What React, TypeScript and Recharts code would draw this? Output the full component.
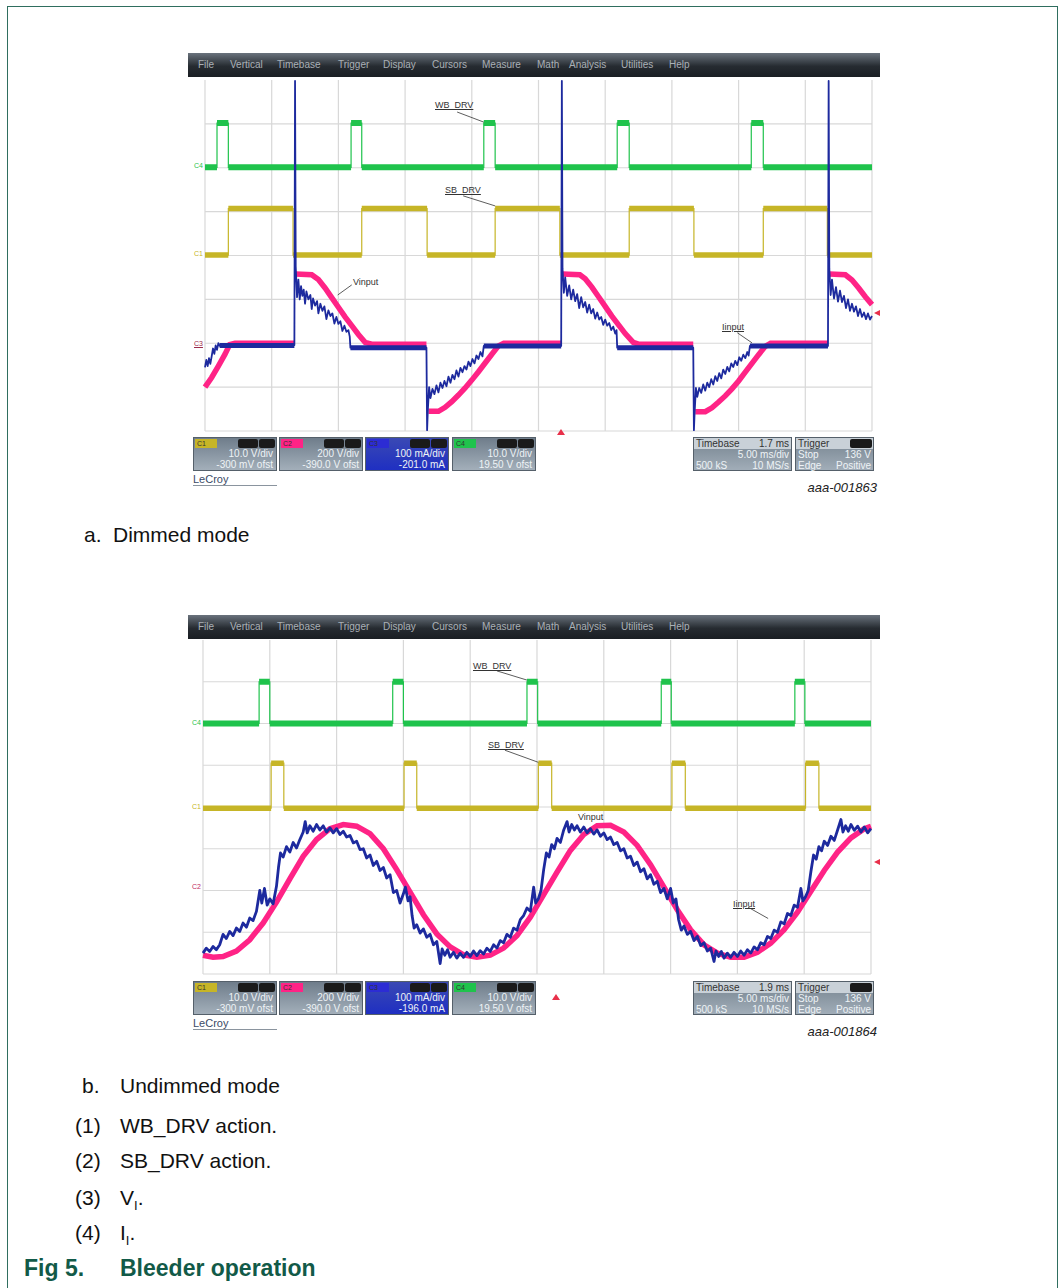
import React from 'react';
import { ComposedChart, Line, XAxis, YAxis, CartesianGrid, ReferenceLine } from 'recharts';

// all trace values are in scope divisions: t = 0..10 (time), v = 0..8 measured from the top
type Pt = [number, number | null];

const gridX = [0, 1, 2, 3, 4, 5, 6, 7, 8, 9, 10];
const gridY = [0, 1, 2, 3, 4, 5, 6, 7, 8];

// ---------- a. dimmed mode ----------
const dimWbEdges = [0.18, 0.35, 2.19, 2.35, 4.18, 4.35, 6.18, 6.36, 8.19, 8.37];
const dimWbLevels = [1.99, 0.98]; // low, high
const dimSbEdges = [0.35, 1.32, 2.35, 3.33, 4.35, 5.32, 6.36, 7.33, 8.37, 9.33];
const dimSbLevels = [3.99, 2.93];

const dimVin: Pt[] = [
  [0, 7.0], [0.1, 6.78], [0.2, 6.52], [0.3, 6.25], [0.37, 6.03], [0.45, 6.0], [1.34, 6.0], [1.34, null],
  [1.36, 4.42], [1.6, 4.44], [1.7, 4.55], [1.8, 4.74], [1.9, 4.96], [2.0, 5.18], [2.1, 5.4], [2.2, 5.6], [2.3, 5.8], [2.4, 5.98], [2.5, 6.02], [3.32, 6.02], [3.32, null],
  [3.35, 7.55], [3.5, 7.55], [3.6, 7.46], [3.7, 7.33], [3.8, 7.18], [3.9, 7.02], [4.0, 6.84], [4.1, 6.65], [4.2, 6.45], [4.3, 6.25], [4.4, 6.06], [4.48, 6.0], [5.34, 6.0], [5.34, null],
  [5.36, 4.42], [5.62, 4.44], [5.7, 4.53], [5.8, 4.72], [5.9, 4.94], [6.0, 5.16], [6.1, 5.38], [6.2, 5.58], [6.3, 5.78], [6.42, 5.98], [6.5, 6.02], [7.32, 6.02], [7.32, null],
  [7.35, 7.56], [7.5, 7.56], [7.6, 7.47], [7.7, 7.34], [7.8, 7.2], [7.9, 7.04], [8.0, 6.86], [8.1, 6.66], [8.2, 6.46], [8.3, 6.26], [8.4, 6.07], [8.48, 6.0], [9.34, 6.0], [9.34, null],
  [9.36, 4.42], [9.6, 4.44], [9.7, 4.56], [9.8, 4.74], [9.9, 4.94], [10, 5.12],
];

const dimIinBand: Pt[] = [
  [0.22, 6.05], [1.34, 6.05], [1.34, null], [2.18, 6.1], [3.32, 6.1], [3.32, null],
  [4.18, 6.06], [5.34, 6.06], [5.34, null], [6.18, 6.1], [7.32, 6.1], [7.32, null],
  [8.17, 6.06], [9.34, 6.06],
];

const dimIin: Pt[] = [
  [0, 6.55], [0.02, 6.38], [0.04, 6.52], [0.06, 6.34], [0.08, 6.47], [0.1, 6.3], [0.12, 6.12], [0.14, 6.24], [0.16, 6.05], [0.18, 6.15], [0.2, 6.0], [0.22, 6.06],
  [1.34, 6.04], [1.35, 0.02], [1.36, 4.25], [1.38, 4.95], [1.4, 4.55], [1.42, 5.0], [1.44, 4.7], [1.46, 4.92], [1.48, 4.78], [1.5, 5.1], [1.52, 4.82], [1.55, 5.0],
  [1.58, 4.9], [1.6, 5.22], [1.62, 4.98], [1.65, 5.14], [1.68, 5.04], [1.7, 5.32], [1.73, 5.1], [1.76, 5.26], [1.79, 5.16], [1.82, 5.45], [1.85, 5.25], [1.88, 5.38],
  [1.91, 5.32], [1.94, 5.55], [1.97, 5.4], [2.0, 5.56], [2.03, 5.5], [2.06, 5.72], [2.09, 5.6], [2.12, 5.74], [2.15, 5.7], [2.17, 5.85], [2.18, 6.1],
  [3.32, 6.1], [3.33, 7.98], [3.34, 7.55], [3.36, 7.0], [3.38, 7.25], [3.41, 7.04], [3.44, 7.16], [3.47, 6.96], [3.5, 7.12], [3.53, 6.9], [3.56, 7.02], [3.59, 6.86],
  [3.62, 6.98], [3.65, 6.76], [3.68, 6.9], [3.71, 6.72], [3.74, 6.82], [3.77, 6.62], [3.8, 6.76], [3.83, 6.56], [3.86, 6.66], [3.89, 6.52], [3.92, 6.6], [3.95, 6.42],
  [3.98, 6.52], [4.01, 6.36], [4.04, 6.46], [4.07, 6.28], [4.1, 6.36], [4.13, 6.2], [4.16, 6.3], [4.18, 6.06],
  [5.34, 6.06], [5.35, 0.02], [5.36, 4.3], [5.38, 4.85], [5.4, 4.5], [5.43, 4.92], [5.46, 4.68], [5.49, 5.0], [5.52, 4.78], [5.55, 5.04], [5.58, 4.88], [5.61, 5.2],
  [5.64, 4.95], [5.67, 5.18], [5.7, 5.06], [5.73, 5.3], [5.76, 5.12], [5.79, 5.32], [5.82, 5.22], [5.85, 5.44], [5.88, 5.3], [5.91, 5.46], [5.94, 5.4], [5.97, 5.58],
  [6.0, 5.46], [6.03, 5.6], [6.06, 5.54], [6.09, 5.7], [6.12, 5.62], [6.15, 5.78], [6.17, 5.7], [6.18, 6.1],
  [7.32, 6.1], [7.33, 7.98], [7.34, 7.6], [7.36, 7.02], [7.38, 7.22], [7.41, 7.02], [7.44, 7.13], [7.47, 6.94], [7.5, 7.08], [7.53, 6.9], [7.56, 7.0], [7.59, 6.82],
  [7.62, 6.94], [7.65, 6.75], [7.68, 6.86], [7.71, 6.68], [7.74, 6.8], [7.77, 6.6], [7.8, 6.7], [7.83, 6.54], [7.86, 6.64], [7.89, 6.46], [7.92, 6.54], [7.95, 6.4],
  [7.98, 6.5], [8.01, 6.32], [8.04, 6.4], [8.07, 6.26], [8.1, 6.34], [8.13, 6.2], [8.15, 6.28], [8.17, 6.06],
  [9.34, 6.06], [9.35, 0.02], [9.36, 4.3], [9.38, 4.9], [9.4, 4.55], [9.43, 4.98], [9.46, 4.72], [9.49, 5.05], [9.52, 4.8], [9.55, 5.06], [9.58, 4.92], [9.61, 5.2],
  [9.64, 5.0], [9.67, 5.26], [9.7, 5.1], [9.73, 5.28], [9.76, 5.16], [9.79, 5.38], [9.82, 5.22], [9.85, 5.4], [9.88, 5.3], [9.91, 5.45], [9.94, 5.32], [9.97, 5.46], [10, 5.38],
];

const dimChannelText = [
  ['10.0 V/div', '-300 mV ofst'],
  ['200 V/div', '-390.0 V ofst'],
  ['100 mA/div', '-201.0 mA'],
  ['10.0 V/div', '19.50 V ofst'],
];
const dimTimebase = ['1.7 ms', '5.00 ms/div', '500 kS', '10 MS/s'];

// ---------- b. undimmed mode ----------
const undimWbEdges = [0.84, 1.0, 2.84, 3.0, 4.85, 5.01, 6.86, 7.01, 8.86, 9.01];
const undimWbLevels = [2.0, 1.0];
const undimSbEdges = [1.02, 1.21, 3.01, 3.2, 5.02, 5.22, 7.02, 7.22, 9.02, 9.22];
const undimSbLevels = [4.03, 2.95];

const undimVin: Pt[] = [
  [0, 7.55], [0.15, 7.6], [0.3, 7.58], [0.5, 7.45], [0.7, 7.18], [0.9, 6.78], [1.1, 6.28], [1.3, 5.72], [1.5, 5.18], [1.7, 4.78], [1.9, 4.52],
  [2.1, 4.42], [2.3, 4.46], [2.5, 4.64], [2.7, 5.0], [2.9, 5.5], [3.1, 6.04], [3.3, 6.58], [3.5, 7.04], [3.7, 7.35], [3.9, 7.54], [4.1, 7.6],
  [4.3, 7.55], [4.5, 7.38], [4.7, 7.08], [4.9, 6.64], [5.1, 6.1], [5.3, 5.56], [5.5, 5.04], [5.7, 4.66], [5.9, 4.45], [6.1, 4.44], [6.3, 4.6],
  [6.5, 4.92], [6.7, 5.38], [6.9, 5.92], [7.1, 6.46], [7.3, 6.94], [7.5, 7.3], [7.7, 7.5], [7.9, 7.6], [8.1, 7.6], [8.3, 7.48], [8.5, 7.26],
  [8.7, 6.94], [8.9, 6.52], [9.1, 6.02], [9.3, 5.52], [9.5, 5.08], [9.7, 4.74], [9.9, 4.52], [10, 4.46],
];

const undimIin: Pt[] = [
  [0, 7.5], [0.05, 7.38], [0.1, 7.46], [0.15, 7.34], [0.2, 7.42], [0.25, 7.3], [0.3, 7.05], [0.35, 7.15], [0.4, 6.98], [0.45, 7.08], [0.5, 6.9],
  [0.55, 6.98], [0.6, 6.78], [0.65, 6.88], [0.7, 6.66], [0.75, 6.72], [0.8, 6.5], [0.85, 6.0], [0.88, 6.3], [0.92, 5.95], [0.96, 6.35], [1.0, 6.2],
  [1.05, 6.32], [1.1, 5.9], [1.13, 5.45], [1.16, 5.1], [1.2, 5.2], [1.25, 4.95], [1.3, 5.08], [1.35, 4.85], [1.4, 4.98], [1.45, 4.78], [1.5, 4.6],
  [1.53, 4.35], [1.56, 4.62], [1.6, 4.45], [1.65, 4.58], [1.7, 4.42], [1.75, 4.55], [1.8, 4.45], [1.85, 4.6], [1.9, 4.5], [1.95, 4.62], [2.0, 4.52],
  [2.05, 4.66], [2.1, 4.58], [2.15, 4.72], [2.2, 4.68], [2.25, 4.86], [2.3, 4.82], [2.35, 5.02], [2.4, 5.0], [2.45, 5.22], [2.5, 5.15], [2.55, 5.4],
  [2.6, 5.3], [2.65, 5.52], [2.7, 5.45], [2.75, 5.7], [2.8, 5.62], [2.85, 6.05], [2.9, 6.0], [2.95, 6.3], [3.0, 6.08], [3.03, 5.92], [3.07, 6.25],
  [3.1, 6.15], [3.13, 6.6], [3.16, 6.9], [3.2, 6.82], [3.25, 7.02], [3.3, 6.92], [3.35, 7.12], [3.4, 7.05], [3.45, 7.3], [3.5, 7.22], [3.55, 7.75],
  [3.58, 7.4], [3.62, 7.55], [3.66, 7.42], [3.7, 7.6], [3.75, 7.48], [3.8, 7.62], [3.85, 7.5], [3.9, 7.6], [3.95, 7.48], [4.0, 7.58], [4.05, 7.45],
  [4.1, 7.56], [4.15, 7.44], [4.2, 7.52], [4.25, 7.38], [4.3, 7.46], [4.35, 7.3], [4.4, 7.38], [4.45, 7.2], [4.5, 7.25], [4.55, 7.05], [4.6, 7.12],
  [4.65, 6.9], [4.7, 6.95], [4.75, 6.7], [4.8, 6.6], [4.85, 6.42], [4.9, 6.5], [4.95, 5.92], [4.98, 6.3], [5.02, 6.2], [5.06, 6.0], [5.1, 5.5],
  [5.14, 5.1], [5.18, 5.2], [5.22, 4.9], [5.26, 5.0], [5.3, 4.75], [5.35, 4.85], [5.4, 4.55], [5.45, 4.35], [5.48, 4.6], [5.52, 4.42], [5.56, 4.55],
  [5.6, 4.45], [5.65, 4.6], [5.7, 4.48], [5.75, 4.62], [5.8, 4.52], [5.85, 4.65], [5.9, 4.55], [5.95, 4.7], [6.0, 4.62], [6.05, 4.78], [6.1, 4.72],
  [6.15, 4.9], [6.2, 4.85], [6.25, 5.05], [6.3, 5.0], [6.35, 5.22], [6.4, 5.18], [6.45, 5.4], [6.5, 5.32], [6.55, 5.55], [6.6, 5.48], [6.65, 5.72],
  [6.7, 5.62], [6.75, 5.85], [6.8, 5.78], [6.85, 6.05], [6.9, 5.95], [6.95, 6.2], [7.0, 5.95], [7.04, 6.3], [7.08, 6.2], [7.12, 6.7], [7.16, 6.95],
  [7.2, 6.85], [7.25, 7.05], [7.3, 6.98], [7.35, 7.2], [7.4, 7.1], [7.45, 7.32], [7.5, 7.25], [7.55, 7.45], [7.6, 7.38], [7.65, 7.7], [7.68, 7.45],
  [7.72, 7.58], [7.76, 7.46], [7.8, 7.62], [7.85, 7.5], [7.9, 7.6], [7.95, 7.48], [8.0, 7.58], [8.05, 7.45], [8.1, 7.55], [8.15, 7.42], [8.2, 7.5],
  [8.25, 7.35], [8.3, 7.42], [8.35, 7.25], [8.4, 7.3], [8.45, 7.1], [8.5, 7.15], [8.55, 6.95], [8.6, 7.0], [8.65, 6.75], [8.7, 6.8], [8.75, 6.55],
  [8.8, 6.6], [8.85, 6.35], [8.9, 6.4], [8.95, 5.95], [8.98, 6.25], [9.02, 6.15], [9.06, 6.0], [9.1, 5.55], [9.14, 5.15], [9.18, 5.25], [9.22, 4.95],
  [9.26, 5.05], [9.3, 4.82], [9.35, 4.92], [9.4, 4.7], [9.45, 4.8], [9.5, 4.55], [9.55, 4.3], [9.58, 4.6], [9.62, 4.45], [9.66, 4.58], [9.7, 4.42],
  [9.75, 4.56], [9.8, 4.46], [9.85, 4.6], [9.9, 4.48], [9.95, 4.62], [10, 4.52],
];

const undimChannelText = [
  ['10.0 V/div', '-300 mV ofst'],
  ['200 V/div', '-390.0 V ofst'],
  ['100 mA/div', '-196.0 mA'],
  ['10.0 V/div', '19.50 V ofst'],
];
const undimTimebase = ['1.9 ms', '5.00 ms/div', '500 kS', '10 MS/s'];

const triggerText = ['Stop', '136 V', 'Edge', 'Positive'];
const menuItems = ['File', 'Vertical', 'Timebase', 'Trigger', 'Display', 'Cursors', 'Measure', 'Math', 'Analysis', 'Utilities', 'Help'];
const notesList = ['WB_DRV action.', 'SB_DRV action.'];

// ---------- helpers ----------
const pts = (a: Pt[]) => a.map(([t, v]) => ({ t, v }));

function squareWave(edges: number[], levels: number[]) {
  const [lo, hi] = levels;
  const out: { t: number; v: number | null }[] = [{ t: 0, v: lo }];
  edges.forEach((e, i) => {
    const rising = i % 2 === 0;
    out.push({ t: e, v: rising ? lo : hi }, { t: e, v: rising ? hi : lo });
  });
  out.push({ t: 10, v: lo });
  return out;
}

function plateaus(edges: number[], levels: number[]) {
  const [lo, hi] = levels;
  const b = [0, ...edges, 10];
  const out: { t: number; v: number | null }[] = [];
  for (let i = 0; i < b.length - 1; i++) {
    const v = i % 2 === 0 ? lo : hi;
    out.push({ t: b[i], v }, { t: b[i + 1], v }, { t: b[i + 1], v: null });
  }
  return out;
}

const FONT = '"Liberation Sans", Arial, Helvetica, sans-serif';
const GREEN = '#1fc34c';
const YELLOW = '#c6b527';
const PINK = '#ff2386';
const BLUE = '#1d2a9e';

const menuOffsets = [10, 42, 89, 150, 195, 244, 294, 349, 381, 433, 481];

function ChanBox({ left, top, tag, tagColor, text, blue }: any) {
  return (
    <div style={{
      position: 'absolute', left, top, width: 84, height: 34, fontFamily: FONT,
      background: blue ? 'linear-gradient(#3a49b4, #1f2fc2)' : 'linear-gradient(#6f7d8b, #a3afba)',
      border: '1px solid #55606a', boxSizing: 'border-box', color: '#eef3f6',
    }}>
      <div style={{ position: 'absolute', left: 1, top: 1, width: 20, height: 9, background: tagColor, fontSize: 7, color: '#333', lineHeight: '9px', paddingLeft: 2 }}>{tag}</div>
      <div style={{ position: 'absolute', right: 18, top: 1, width: 20, height: 9, background: '#1a1a1a', borderRadius: 2 }} />
      <div style={{ position: 'absolute', right: 1, top: 1, width: 16, height: 9, background: '#1a1a1a', borderRadius: 2 }} />
      <div style={{ position: 'absolute', right: 3, top: 10, fontSize: 10, lineHeight: '11px' }}>{text[0]}</div>
      <div style={{ position: 'absolute', right: 3, top: 21, fontSize: 10, lineHeight: '11px' }}>{text[1]}</div>
    </div>
  );
}

function Scope(p: any) {
  const chanColors = [YELLOW, PINK, '#2c2cd4', GREEN];
  const chanTags = ['C1', 'C2', 'C3', 'C4'];
  const boxLefts = [193, 279, 365, 452];
  return (
    <>
      {/* menu bar */}
      <div style={{ position: 'absolute', left: 188, top: p.menuTop, width: 692, height: 24, background: 'linear-gradient(#6a737d, #262b31 55%, #1a1e23)', fontFamily: FONT }}>
        {menuItems.map((m, i) => (
          <span key={m} style={{ position: 'absolute', left: menuOffsets[i], top: 6, fontSize: 10, color: '#aab0b6' }}>{m}</span>
        ))}
      </div>
      {/* channel markers */}
      {p.markers.map((m: any) => (
        <div key={m.text} style={{ position: 'absolute', left: p.plotLeft - 11, top: m.top - 5, fontSize: 7, fontFamily: FONT, color: m.color, textDecoration: m.underline ? 'underline' : 'none' }}>{m.text}</div>
      ))}
      <div style={{ position: 'absolute', left: p.plotLeft - 4, top: p.plotTop - 4 }}>
        <ComposedChart width={p.plotW + 8} height={p.plotH + 8} margin={{ top: 4, right: 4, bottom: 4, left: 4 }}>
          <XAxis type="number" dataKey="t" domain={[0, 10]} ticks={gridX} hide />
          <YAxis type="number" domain={[0, 8]} ticks={gridY} reversed hide />
          <CartesianGrid stroke="#d8d8d8" strokeWidth={1.2} horizontalValues={gridY} verticalValues={gridX} />
          <Line data={squareWave(p.wbEdges, p.wbLevels)} dataKey="v" stroke={GREEN} strokeWidth={1.2} dot={false} isAnimationActive={false} />
          <Line data={plateaus(p.wbEdges, p.wbLevels)} dataKey="v" stroke={GREEN} strokeWidth={6} dot={false} isAnimationActive={false} />
          <Line data={squareWave(p.sbEdges, p.sbLevels)} dataKey="v" stroke={YELLOW} strokeWidth={1.2} dot={false} isAnimationActive={false} />
          <Line data={plateaus(p.sbEdges, p.sbLevels)} dataKey="v" stroke={YELLOW} strokeWidth={5.5} dot={false} isAnimationActive={false} />
          <Line data={pts(p.vin)} dataKey="v" stroke={PINK} strokeWidth={5.5} dot={false} isAnimationActive={false} />
          {p.iinBand && <Line data={pts(p.iinBand)} dataKey="v" stroke={BLUE} strokeWidth={5} dot={false} isAnimationActive={false} />}
          <Line data={pts(p.iin)} dataKey="v" stroke={BLUE} strokeWidth={p.iinWidth} strokeLinejoin="round" dot={false} isAnimationActive={false} />
          {p.leaders.map((s: number[][], i: number) => (
            <ReferenceLine key={i} segment={[{ x: s[0][0], y: s[0][1] }, { x: s[1][0], y: s[1][1] }]} stroke="#333" strokeWidth={0.8} ifOverflow="visible" />
          ))}
        </ComposedChart>
      </div>
      {p.notes.map((n: any) => (
        <div key={n.text} style={{ position: 'absolute', left: n.left, top: n.top, fontSize: 9, fontFamily: FONT, color: '#333', textDecoration: n.underline ? 'underline' : 'none', whiteSpace: 'nowrap' }}>{n.text}</div>
      ))}
      {/* trigger markers */}
      <div style={{ position: 'absolute', left: p.trigX - 4, top: p.trigY - 4, width: 0, height: 0, borderLeft: '4px solid transparent', borderRight: '4px solid transparent', borderBottom: '6px solid #e8304a' }} />
      <div style={{ position: 'absolute', left: 874, top: p.levelY - 3, width: 0, height: 0, borderTop: '3px solid transparent', borderBottom: '3px solid transparent', borderRight: '6px solid #e8304a' }} />
      {/* channel boxes */}
      {p.chanText.map((t: string[], i: number) => (
        <ChanBox key={i} left={boxLefts[i]} top={p.boxTop} tag={chanTags[i]} tagColor={chanColors[i]} text={t} blue={i === 2} />
      ))}
      {/* timebase + trigger */}
      <div style={{ position: 'absolute', left: 693, top: p.boxTop, width: 99, height: 34, background: 'linear-gradient(#75838f, #a1adb8)', border: '1px solid #55606a', boxSizing: 'border-box', fontFamily: FONT, fontSize: 10, color: '#eef3f6' }}>
        <div style={{ position: 'absolute', left: 0, top: 0, right: 0, height: 11, background: '#c9d1d8', color: '#333' }}>
          <span style={{ position: 'absolute', left: 2, top: 0 }}>Timebase</span>
          <span style={{ position: 'absolute', right: 2, top: 0 }}>{p.timebase[0]}</span>
        </div>
        <span style={{ position: 'absolute', right: 2, top: 11 }}>{p.timebase[1]}</span>
        <span style={{ position: 'absolute', left: 2, top: 22 }}>{p.timebase[2]}</span>
        <span style={{ position: 'absolute', right: 2, top: 22 }}>{p.timebase[3]}</span>
      </div>
      <div style={{ position: 'absolute', left: 795, top: p.boxTop, width: 79, height: 34, background: 'linear-gradient(#75838f, #a1adb8)', border: '1px solid #55606a', boxSizing: 'border-box', fontFamily: FONT, fontSize: 10, color: '#eef3f6' }}>
        <div style={{ position: 'absolute', left: 0, top: 0, right: 0, height: 11, background: '#c9d1d8', color: '#333' }}>
          <span style={{ position: 'absolute', left: 2, top: 0 }}>Trigger</span>
          <span style={{ position: 'absolute', right: 1, top: 1, width: 22, height: 9, background: '#1a1a1a', borderRadius: 2 }} />
        </div>
        <span style={{ position: 'absolute', left: 2, top: 11 }}>{triggerText[0]}</span>
        <span style={{ position: 'absolute', right: 2, top: 11 }}>{triggerText[1]}</span>
        <span style={{ position: 'absolute', left: 2, top: 22 }}>{triggerText[2]}</span>
        <span style={{ position: 'absolute', right: 2, top: 22 }}>{triggerText[3]}</span>
      </div>
      <div style={{ position: 'absolute', left: 193, top: p.boxTop + 36, fontSize: 11, fontFamily: FONT, color: '#3a4a66', borderBottom: '1px solid #8a949e', width: 84 }}>LeCroy</div>
      <div style={{ position: 'absolute', right: 1063 - 877, top: p.boxTop + 43, fontSize: 13, fontFamily: FONT, fontStyle: 'italic', color: '#222' }}>{p.id}</div>
    </>
  );
}

const textStyle: React.CSSProperties = { position: 'absolute', fontFamily: FONT, fontSize: 21, color: '#111', lineHeight: '25px', whiteSpace: 'nowrap' };

export default function App() {
  return (
    <div style={{ position: 'absolute', left: 0, top: 0, width: 1063, height: 1288, background: '#fff', overflow: 'hidden' }}>
      <div style={{ position: 'absolute', left: 7, top: 6, width: 1051, height: 1300, border: '1px solid #2f6e5f', boxSizing: 'border-box' }} />

      <Scope
        menuTop={53} plotLeft={205} plotTop={80} plotW={667} plotH={351} boxTop={437}
        wbEdges={dimWbEdges} wbLevels={dimWbLevels} sbEdges={dimSbEdges} sbLevels={dimSbLevels}
        vin={dimVin} iin={dimIin} iinBand={dimIinBand} iinWidth={1.8}
        chanText={dimChannelText} timebase={dimTimebase} id="aaa-001863"
        trigX={561} trigY={433} levelY={313}
        markers={[{ text: 'C4', top: 167, color: GREEN }, { text: 'C1', top: 255, color: YELLOW }, { text: 'C3', top: 345, color: '#9c2a4c', underline: true }]}
        leaders={[[[3.78, 0.73], [4.18, 0.96]], [[3.87, 2.64], [4.35, 2.87]], [[1.99, 4.9], [2.2, 4.67]], [[7.98, 5.76], [8.2, 5.99]]]}
        notes={[
          { text: 'WB_DRV', left: 435, top: 100, underline: true },
          { text: 'SB_DRV', left: 445, top: 185, underline: true },
          { text: 'Vinput', left: 353, top: 277 },
          { text: 'Iinput', left: 722, top: 322, underline: true },
        ]}
      />

      <div style={{ ...textStyle, left: 84, top: 522 }}>a.</div>
      <div style={{ ...textStyle, left: 113, top: 522 }}>Dimmed mode</div>

      <Scope
        menuTop={615} plotLeft={203} plotTop={640} plotW={668} plotH={334} boxTop={981}
        wbEdges={undimWbEdges} wbLevels={undimWbLevels} sbEdges={undimSbEdges} sbLevels={undimSbLevels}
        vin={undimVin} iin={undimIin} iinWidth={2.8}
        chanText={undimChannelText} timebase={undimTimebase} id="aaa-001864"
        trigX={556} trigY={998} levelY={862}
        markers={[{ text: 'C4', top: 724, color: GREEN }, { text: 'C1', top: 808, color: YELLOW }, { text: 'C2', top: 888, color: '#c02a60' }]}
        leaders={[[[4.4, 0.74], [4.85, 0.96]], [[4.52, 2.64], [5.02, 2.93]], [[8.16, 6.4], [8.46, 6.67]]]}
        notes={[
          { text: 'WB_DRV', left: 473, top: 661, underline: true },
          { text: 'SB_DRV', left: 488, top: 740, underline: true },
          { text: 'Vinput', left: 578, top: 812 },
          { text: 'Iinput', left: 733, top: 899, underline: true },
        ]}
      />

      <div style={{ ...textStyle, left: 82, top: 1073 }}>b.</div>
      <div style={{ ...textStyle, left: 120, top: 1073 }}>Undimmed mode</div>

      <div style={{ ...textStyle, left: 75, top: 1113 }}>(1)</div>
      <div style={{ ...textStyle, left: 120, top: 1113 }}>{notesList[0]}</div>
      <div style={{ ...textStyle, left: 75, top: 1148 }}>(2)</div>
      <div style={{ ...textStyle, left: 120, top: 1148 }}>{notesList[1]}</div>
      <div style={{ ...textStyle, left: 75, top: 1185 }}>(3)</div>
      <div style={{ ...textStyle, left: 120, top: 1185 }}>V<sub style={{ fontSize: 13 }}>I</sub>.</div>
      <div style={{ ...textStyle, left: 75, top: 1220 }}>(4)</div>
      <div style={{ ...textStyle, left: 120, top: 1220 }}>I<sub style={{ fontSize: 13 }}>I</sub>.</div>

      <div style={{ ...textStyle, left: 24, top: 1256, fontSize: 23, fontWeight: 'bold', color: '#125a48' }}>Fig 5.</div>
      <div style={{ ...textStyle, left: 120, top: 1256, fontSize: 23, fontWeight: 'bold', color: '#125a48' }}>Bleeder operation</div>
    </div>
  );
}
